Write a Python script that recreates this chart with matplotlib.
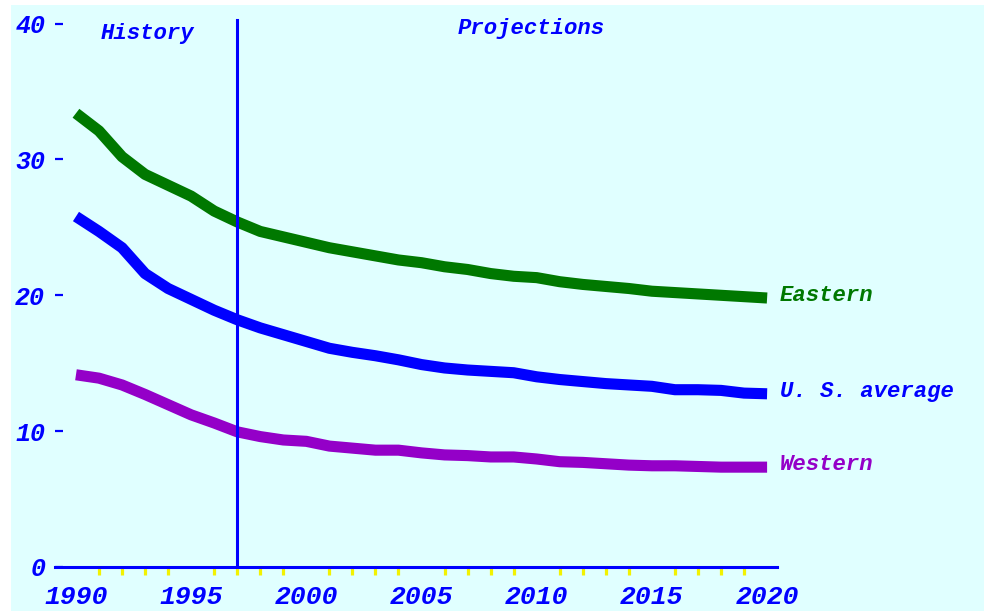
import matplotlib
matplotlib.use("Agg")
import matplotlib.pyplot as plt
from matplotlib.patches import Rectangle

years = list(range(1990, 2021))
eastern = [33.4, 32.1, 30.2, 28.9, 28.1, 27.3, 26.2, 25.4, 24.7, 24.3, 23.9,
           23.5, 23.2, 22.9, 22.6, 22.4, 22.1, 21.9, 21.6, 21.4, 21.3,
           21.0, 20.8, 20.65, 20.5, 20.3, 20.2, 20.1, 20.0, 19.9, 19.8]
us_average = [25.8, 24.7, 23.5, 21.6, 20.5, 19.7, 18.9, 18.2, 17.6, 17.1, 16.6,
              16.1, 15.8, 15.55, 15.25, 14.9, 14.65, 14.5, 14.4, 14.3, 14.0,
              13.8, 13.65, 13.5, 13.4, 13.3, 13.05, 13.05, 13.0, 12.8, 12.75]
western = [14.15, 13.9, 13.4, 12.7, 11.95, 11.2, 10.6, 9.95, 9.6, 9.35, 9.25,
           8.9, 8.75, 8.6, 8.6, 8.4, 8.25, 8.2, 8.1, 8.1, 7.95,
           7.75, 7.7, 7.6, 7.5, 7.45, 7.45, 7.4, 7.35, 7.35, 7.35]
series_names = ["Eastern", "U. S. average", "Western"]
series_colors = ["#007800", "#0000FF", "#9400C8"]

x_major = [1990, 1995, 2000, 2005, 2010, 2015, 2020]
x_labels = ["1990", "1995", "2000", "2005", "2010", "2015", "2020"]
x_minor = [y for y in range(1991, 2020) if y % 5 != 0]
y_ticks = [0, 10, 20, 30, 40]
y_labels = ["0", "10", "20", "30", "40"]
divider_year = 1997

BG = "#E0FFFF"
BLUE = "#0000FF"
FONT = "Liberation Mono"

fig = plt.figure(figsize=(9.84, 6.11), dpi=100, facecolor=BG)
# thin white margins at top and left of the original image
fig.patches.append(Rectangle((0, 0), 11 / 984, 1, transform=fig.transFigure,
                             facecolor="white", edgecolor="none", zorder=-10))
fig.patches.append(Rectangle((0, 1 - 5 / 611), 1, 5 / 611, transform=fig.transFigure,
                             facecolor="white", edgecolor="none", zorder=-10))

ax = fig.add_axes([55 / 984, 44 / 611, (777 - 55) / 984, (567 - 10) / 611])
ax.set_facecolor(BG)
ax.set_xlim(1989.09, 2020.43)
ax.set_ylim(0, 41.0)

for s in ["left", "right", "top"]:
    ax.spines[s].set_visible(False)
ax.spines["bottom"].set_color(BLUE)
ax.spines["bottom"].set_linewidth(2.2)
ax.spines["bottom"].set_zorder(5)

for vals, name, col in zip([eastern, us_average, western], series_names, series_colors):
    ax.plot(years, vals, color=col, linewidth=8, solid_capstyle="butt",
            solid_joinstyle="round", zorder=3)
    ax.annotate(name, xy=(years[-1], vals[-1]), xytext=(9, 2),
                textcoords="offset points", ha="left", va="center",
                color=col, fontsize=16, fontstyle="italic", fontweight="bold",
                family=FONT)

ax.plot([divider_year, divider_year], [0, 40.3], color=BLUE, linewidth=2.2, zorder=4)

ax.set_xticks(x_major)
ax.set_xticklabels(x_labels)
ax.set_xticks(x_minor, minor=True)
ax.tick_params(axis="x", which="major", length=0, pad=13, colors=BLUE, labelsize=19)
ax.tick_params(axis="x", which="minor", length=6, width=2.3, color="#F2F200", direction="out")
for lbl in ax.get_xticklabels():
    lbl.set_fontfamily(FONT)
    lbl.set_fontstyle("italic")
    lbl.set_fontweight("bold")

ax.set_yticks(y_ticks)
ax.set_yticklabels(y_labels)
ax.tick_params(axis="y", which="major", length=5.5, width=1.6, direction="in",
               colors=BLUE, pad=7, labelsize=18)
for lbl in ax.get_yticklabels():
    lbl.set_fontfamily(FONT)
    lbl.set_fontstyle("italic")
    lbl.set_fontweight("bold")

ax.text(1993.1, 39.3, "History", color=BLUE, fontsize=16, fontstyle="italic",
        fontweight="bold", family=FONT, ha="center", va="center")
ax.text(2009.75, 39.65, "Projections", color=BLUE, fontsize=16, fontstyle="italic",
        fontweight="bold", family=FONT, ha="center", va="center")

fig.savefig("out.png", dpi=100, facecolor=BG)
